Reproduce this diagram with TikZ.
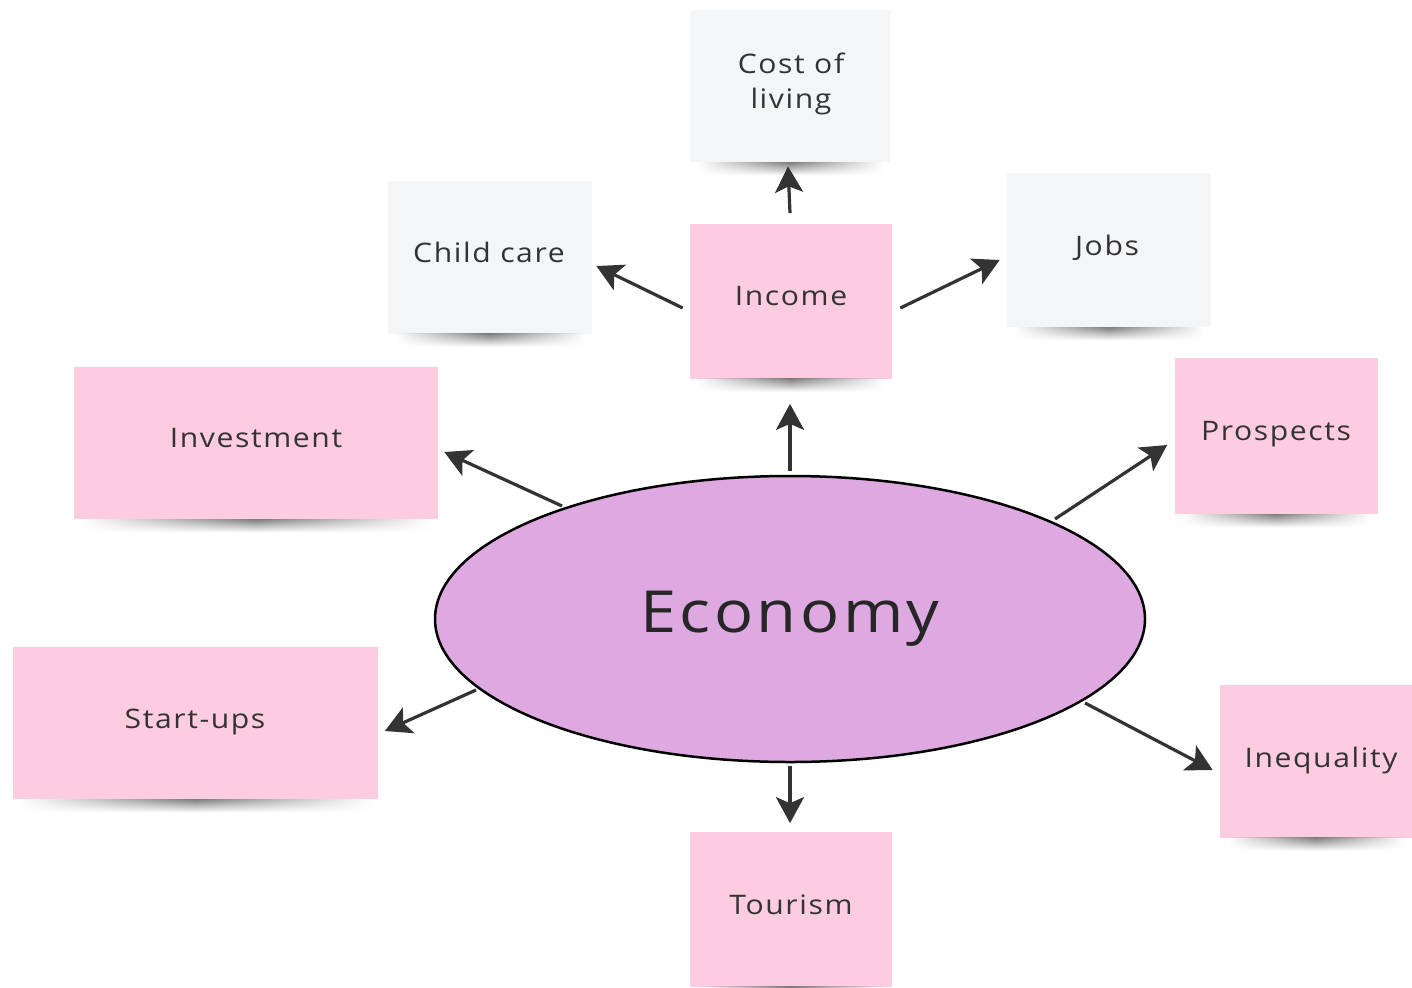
\documentclass[tikz,border=0pt]{standalone}
\usepackage{fontspec}
\setmainfont{Open Sans}[LetterSpace=6, FakeStretch=1.12]
\usetikzlibrary{arrows.meta,calc,shapes.geometric,fadings}
\definecolor{notepink}{HTML}{FDCCE0}
\definecolor{notegray}{HTML}{F4F5F7}
\definecolor{ecofill}{HTML}{DEA8E0}
\definecolor{txt}{HTML}{333333}
\definecolor{arrcol}{HTML}{333333}
\def\pu{0.02cm}
\tikzfading[name=fadesides, left color=transparent!100, right color=transparent!100, middle color=transparent!0]
\tikzset{
  note/.style={rectangle, inner sep=0pt, align=center, text=txt,
    font=\fontsize{15.3}{20}\selectfont, text depth=0pt},
  pinknote/.style={note, fill=notepink},
  graynote/.style={note, fill=notegray},
  eco/.style={ellipse, draw=black, line width=2.5*\pu, fill=ecofill, inner sep=0pt,
    minimum width=710*\pu, minimum height=286*\pu, text=black!85,
    font=\fontsize{33}{38}\selectfont},
  arr/.style={draw=arrcol, line width=3.2*\pu,
    -{Stealth[length=26*\pu, width=28*\pu, inset=6*\pu]}},
  shd/.style={top color=black!50, bottom color=white, path fading=fadesides}
}
\newcommand\noteshadow[1]{%
  \shade[shd] ($(#1.south west)+(8,0)$) rectangle ($(#1.south east)+(-8,13)$);}
\begin{document}
\begin{tikzpicture}[x=0.02cm,y=-0.02cm]
\useasboundingbox (0,0) rectangle (1412,987);
\fill[white] (0,0) rectangle (1412,987);

\node[graynote, minimum width=200*\pu, minimum height=152*\pu] (cost) at (790,86) {};
\node[graynote, minimum width=204*\pu, minimum height=153*\pu] (child) at (490,257) {};
\node[pinknote, minimum width=202*\pu, minimum height=155*\pu] (income) at (791,301) {};
\node[graynote, minimum width=204*\pu, minimum height=154*\pu] (jobs) at (1109,250) {};
\node[pinknote, minimum width=364*\pu, minimum height=152*\pu] (invest) at (256,443) {};
\node[pinknote, minimum width=203*\pu, minimum height=156*\pu] (prosp) at (1276,436) {};
\node[pinknote, minimum width=365*\pu, minimum height=152*\pu] (start) at (195,723) {};
\node[pinknote, minimum width=192*\pu, minimum height=153*\pu] (ineq) at (1316,761) {};
\node[pinknote, minimum width=202*\pu, minimum height=155*\pu] (tour) at (791,909) {};

\foreach \n in {cost,child,income,jobs,invest,prosp,start,ineq,tour}{\noteshadow{\n}}

\node[note] (costt) at (791,81) {Cost of\\living};
\node[note] (childt) at (489,252) {Child care};
\node[note] (incomet) at (791,296) {Income};
\node[note] (jobst) at (1107,245) {Jobs};
\node[note] (investt) at (256,438) {Investment};
\node[note] (prospt) at (1276,431) {Prospects};
\node[note] (startt) at (195,719) {Start-ups};
\node[note] (ineqt) at (1321,757) {Inequality};
\node[note] (tourt) at (791,905) {Tourism};

\node[eco] (economy) at (790,619) {Economy};

\draw[arr] ($(income.north)+(-1,-10)$) -- ($(cost.south)+(-2,4)$);
\draw[arr] ($(income.west)+(-7,7)$) -- ($(child.east)+(4,9)$);
\draw[arr] ($(income.east)+(8,7)$) -- ($(jobs.west)+(-7,10)$);
\draw[arr] ($(economy.north)+(0,-4)$) -- ($(income.south)+(-1,25)$);
\draw[arr] ($(economy.center)+(-228,-113)$) -- ($(invest.east)+(6,9)$);
\draw[arr] ($(economy.center)+(265,-100)$) -- ($(prosp.west)+(-7,9)$);
\draw[arr] ($(economy.center)+(-314,71)$) -- ($(start.east)+(7,8)$);
\draw[arr] ($(economy.center)+(295,84)$) -- ($(ineq.west)+(-7,9)$);
\draw[arr] ($(economy.south)+(0,3)$) -- ($(tour.north)+(-1,-8)$);
\end{tikzpicture}
\end{document}
